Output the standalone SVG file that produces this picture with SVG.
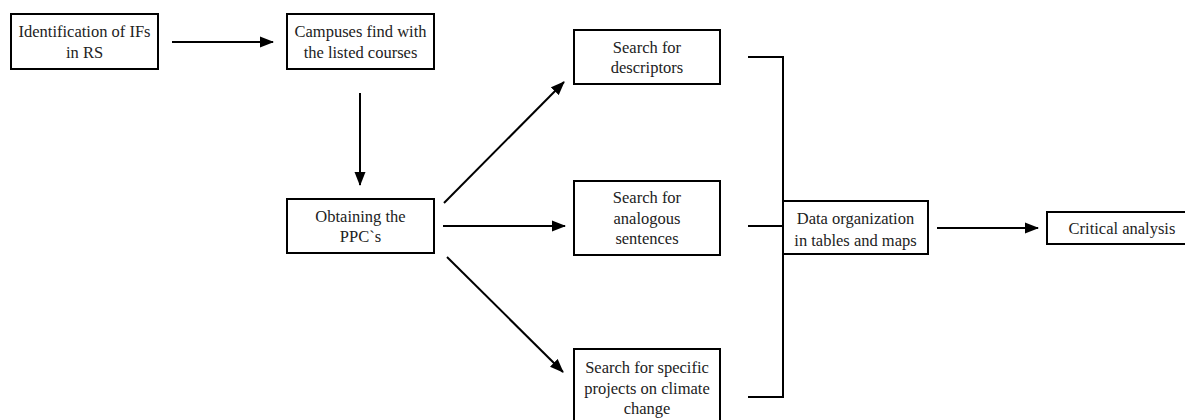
<svg xmlns="http://www.w3.org/2000/svg" width="1185" height="420" viewBox="0 0 1185 420">
<style>
.box{fill:#fff;stroke:#000;stroke-width:2}
.t{font-family:'Liberation Serif','DejaVu Serif',serif;font-size:16.5px;fill:#222;text-anchor:middle}
.c{stroke:#000;stroke-width:2;fill:none}
</style>
<defs>
<marker id="ah" markerUnits="userSpaceOnUse" markerWidth="14" markerHeight="12" viewBox="0 0 14 12" refX="13" refY="6" orient="auto">
<path d="M0,0.5 L14,6 L0,11.5 Z" fill="#000"/>
</marker>
</defs>
<rect width="1185" height="420" fill="#fff"/>
<g id="connectors">
<line class="c" x1="172" y1="42" x2="273" y2="42" marker-end="url(#ah)"/>
<line class="c" x1="360" y1="93" x2="360" y2="185" marker-end="url(#ah)"/>
<line class="c" x1="444" y1="203" x2="564" y2="82" marker-end="url(#ah)"/>
<line class="c" x1="443" y1="226" x2="565" y2="226" marker-end="url(#ah)"/>
<line class="c" x1="447" y1="257" x2="563" y2="372" marker-end="url(#ah)"/>
<polyline class="c" points="748,57 783,57 783,397 748,397"/>
<line class="c" x1="748" y1="226" x2="783" y2="226"/>
<line class="c" x1="937" y1="228" x2="1038" y2="228" marker-end="url(#ah)"/>
</g>
<g id="n1"><rect class="box" x="11" y="14" width="147" height="55"/>
<text class="t" x="84.5" y="37">Identification of IFs</text><text class="t" x="84.5" y="58">in RS</text></g>
<g id="n2"><rect class="box" x="287" y="14" width="147" height="55"/>
<text class="t" x="360.5" y="37">Campuses find with</text><text class="t" x="360.5" y="58">the listed courses</text></g>
<g id="n3"><rect class="box" x="287" y="199" width="147" height="54"/>
<text class="t" x="360.5" y="222">Obtaining the</text><text class="t" x="360.5" y="242">PPC`s</text></g>
<g id="n4"><rect class="box" x="574" y="30" width="146" height="54"/>
<text class="t" x="647" y="53">Search for</text><text class="t" x="647" y="73">descriptors</text></g>
<g id="n5"><rect class="box" x="574" y="181" width="146" height="74"/>
<text class="t" x="647" y="203">Search for</text><text class="t" x="647" y="224">analogous</text><text class="t" x="647" y="244">sentences</text></g>
<g id="n6"><rect class="box" x="574" y="349" width="146" height="72"/>
<text class="t" x="647" y="373">Search for specific</text><text class="t" x="647" y="394">projects on climate</text><text class="t" x="647" y="414">change</text></g>
<g id="n7"><rect class="box" x="783" y="201" width="145" height="53"/>
<text class="t" x="855.5" y="224">Data organization</text><text class="t" x="855.5" y="246">in tables and maps</text></g>
<g id="n8"><rect class="box" x="1047" y="212" width="150" height="32"/>
<text class="t" x="1122" y="234">Critical analysis</text></g>
</svg>
